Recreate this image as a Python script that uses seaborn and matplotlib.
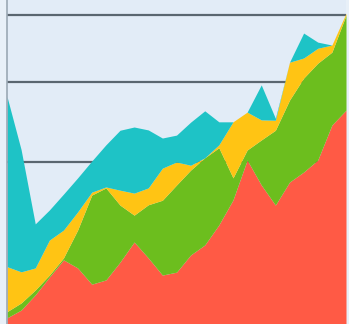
import matplotlib
matplotlib.use("Agg")
import matplotlib.pyplot as plt
import seaborn as sns
import numpy as np
import pandas as pd

# x positions (index of sample)
steps = list(range(25))

red    = [1.9, 4.3, 9.0, 14.5, 19.8, 17.3, 12.3, 13.6, 19.1, 25.3, 20.4, 15.1, 16.0,
          21.3, 24.4, 30.6, 38.3, 50.6, 42.9, 36.7, 43.8, 46.9, 50.6, 61.4, 66.0]
green  = [1.9, 2.2, 1.5, 0.6, 0.6, 11.7, 27.5, 28.4, 17.6, 8.3, 16.4, 23.1, 26.9,
          26.2, 26.9, 23.8, 6.8, 3.1, 13.9, 23.1, 25.3, 29.0, 29.9, 22.5, 29.3]
yellow = [13.9, 9.6, 6.8, 10.8, 8.6, 5.6, 0.9, 0.3, 4.6, 6.8, 5.2, 9.9, 7.1,
          1.5, 0.0, 0.9, 17.3, 11.7, 6.2, 3.1, 11.7, 6.2, 4.6, 2.2, 0.6]
teal   = [52.5, 37.7, 13.6, 9.3, 11.1, 10.5, 9.6, 13.0, 18.5, 20.4, 17.9, 9.3, 8.3,
          13.3, 14.5, 7.1, 0.0, 0.0, 10.8, 0.6, 0.0, 7.7, 1.9, 0.0, 0.0]

grid_levels = [50.0, 74.7, 95.4]

colors = ["#FF5A45", "#6CBE1E", "#FFC414", "#1EC3C6"]

sns.set_style("white")
df = pd.DataFrame({"step": steps, "red": red, "green": green,
                   "yellow": yellow, "teal": teal})

fig = plt.figure(figsize=(3.49, 3.24), dpi=100, facecolor="#E8F0F8")
ax = fig.add_axes([7 / 349, 0.0, 339 / 349, 1.0])
ax.set_facecolor("#E2ECF7")

ax.stackplot(df["step"], df["red"], df["green"], df["yellow"], df["teal"],
             colors=colors, linewidth=0, zorder=2)

ax.set_xlim(0, 24)
ax.set_ylim(0, 100)
ax.set_yticks(grid_levels)
ax.set_xticks([])
ax.yaxis.grid(True, color="#5A6670", linewidth=1.6, zorder=1)
ax.set_axisbelow(True)
ax.tick_params(left=False, labelleft=False, bottom=False, labelbottom=False)
for side in ["top", "right", "bottom"]:
    ax.spines[side].set_visible(False)
ax.spines["left"].set_color("#9AA8B4")
ax.spines["left"].set_linewidth(1.2)

fig.savefig("out.png", dpi=100, facecolor=fig.get_facecolor())
